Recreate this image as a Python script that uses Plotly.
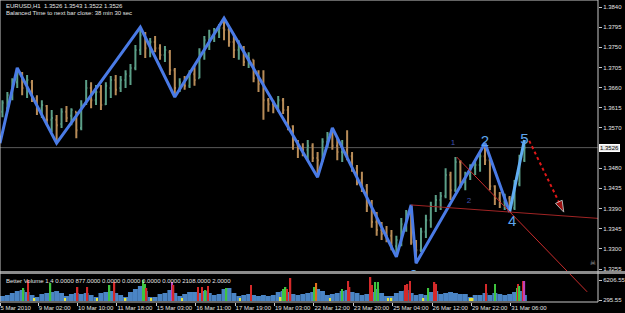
import plotly.graph_objects as go

# ---------------- data ----------------
SYMBOL = "EURUSD,H1"
LAST_O, LAST_H, LAST_L, LAST_C = 1.3526, 1.3543, 1.3522, 1.3526
INFO_TEXT = "Balanced Time to next bar close: 38 min 30 sec"
VOL_TEXT = "Better Volume 1.4 0.0000 877.0000 0.0000 0.0000 0.0000 0.0000 2108.0000 2.0000"

# bar index (hours) of each 4-hour aggregate bar
BAR_B = list(range(2, 428, 4))

O = [1.3606,1.3614,1.3639,1.3672,1.3690,1.3659,1.3672,1.3637,1.3614,1.3619,
     1.3588,1.3588,1.3579,1.3606,1.3597,1.3606,1.3570,1.3628,1.3659,1.3632,
     1.3650,1.3623,1.3659,1.3677,1.3659,1.3677,1.3686,1.3704,1.3744,1.3777,
     1.3748,1.3762,1.3748,1.3733,1.3739,1.3699,1.3659,1.3672,1.3664,1.3690,
     1.3681,1.3739,1.3766,1.3775,1.3784,1.3793,1.3789,1.3762,1.3744,1.3748,
     1.3722,1.3722,1.3681,1.3668,1.3632,1.3623,1.3619,1.3632,1.3610,1.3574,
     1.3532,1.3525,1.3521,1.3530,1.3503,1.3498,1.3539,1.3556,1.3530,1.3516,
     1.3521,1.3507,1.3480,1.3454,1.3440,1.3396,1.3360,1.3342,1.3333,1.3329,
     1.3306,1.3320,1.3355,1.3382,1.3315,1.3297,1.3338,1.3364,1.3396,1.3409,
     1.3418,1.3465,1.3431,1.3494,1.3449,1.3463,1.3480,1.3487,1.3507,1.3498,
     1.3440,1.3413,1.3405,1.3413,1.3391,1.3445,1.3498]
H = [1.3632,1.3650,1.3681,1.3704,1.3695,1.3688,1.3677,1.3643,1.3632,1.3621,
     1.3610,1.3599,1.3614,1.3619,1.3614,1.3606,1.3632,1.3677,1.3672,1.3666,
     1.3666,1.3672,1.3686,1.3688,1.3686,1.3699,1.3713,1.3755,1.3795,1.3784,
     1.3771,1.3775,1.3757,1.3753,1.3744,1.3704,1.3681,1.3686,1.3699,1.3708,
     1.3748,1.3775,1.3789,1.3793,1.3802,1.3815,1.3800,1.3780,1.3766,1.3753,
     1.3739,1.3722,1.3699,1.3699,1.3637,1.3632,1.3641,1.3637,1.3619,1.3576,
     1.3543,1.3536,1.3543,1.3536,1.3516,1.3547,1.3561,1.3570,1.3547,1.3543,
     1.3565,1.3516,1.3487,1.3472,1.3445,1.3409,1.3382,1.3360,1.3351,1.3342,
     1.3329,1.3369,1.3387,1.3398,1.3320,1.3347,1.3376,1.3405,1.3420,1.3427,
     1.3480,1.3472,1.3505,1.3498,1.3472,1.3489,1.3498,1.3516,1.3536,1.3503,
     1.3442,1.3427,1.3423,1.3418,1.3454,1.3510,1.3543]
L = [1.3594,1.3606,1.3632,1.3659,1.3643,1.3637,1.3628,1.3599,1.3592,1.3576,
     1.3561,1.3536,1.3570,1.3583,1.3576,1.3547,1.3565,1.3621,1.3614,1.3621,
     1.3610,1.3621,1.3637,1.3643,1.3650,1.3659,1.3666,1.3699,1.3733,1.3726,
     1.3728,1.3739,1.3722,1.3717,1.3688,1.3639,1.3650,1.3655,1.3659,1.3664,
     1.3681,1.3722,1.3744,1.3762,1.3771,1.3766,1.3751,1.3726,1.3722,1.3708,
     1.3704,1.3672,1.3650,1.3588,1.3606,1.3603,1.3606,1.3601,1.3565,1.3521,
     1.3503,1.3507,1.3498,1.3494,1.3460,1.3494,1.3525,1.3521,1.3498,1.3494,
     1.3498,1.3472,1.3442,1.3427,1.3382,1.3347,1.3329,1.3320,1.3315,1.3297,
     1.3282,1.3306,1.3338,1.3309,1.3268,1.3293,1.3324,1.3347,1.3382,1.3387,
     1.3413,1.3409,1.3427,1.3436,1.3431,1.3454,1.3465,1.3472,1.3487,1.3431,
     1.3398,1.3391,1.3387,1.3382,1.3387,1.3440,1.3494]
C = [1.3626,1.3643,1.3672,1.3690,1.3659,1.3677,1.3637,1.3614,1.3621,1.3588,
     1.3592,1.3576,1.3606,1.3592,1.3610,1.3565,1.3623,1.3659,1.3632,1.3650,
     1.3621,1.3664,1.3677,1.3655,1.3677,1.3690,1.3704,1.3744,1.3777,1.3748,
     1.3762,1.3748,1.3733,1.3744,1.3699,1.3659,1.3672,1.3664,1.3690,1.3677,
     1.3739,1.3766,1.3777,1.3784,1.3793,1.3789,1.3762,1.3744,1.3753,1.3717,
     1.3726,1.3681,1.3668,1.3632,1.3623,1.3619,1.3632,1.3610,1.3574,1.3532,
     1.3525,1.3521,1.3530,1.3503,1.3498,1.3539,1.3556,1.3530,1.3516,1.3521,
     1.3507,1.3480,1.3454,1.3440,1.3396,1.3360,1.3342,1.3333,1.3329,1.3306,
     1.3320,1.3355,1.3382,1.3315,1.3297,1.3338,1.3364,1.3396,1.3409,1.3418,
     1.3465,1.3431,1.3494,1.3449,1.3463,1.3480,1.3487,1.3507,1.3498,1.3440,
     1.3413,1.3405,1.3413,1.3391,1.3445,1.3498,1.3526]

# zigzag vertices
ZZ_B = [0, 14, 46, 114, 142, 182, 258, 270, 322, 334, 338, 394, 414, 426]
ZZ_P = [1.3536, 1.3704, 1.3536, 1.3795, 1.3639, 1.3815, 1.3460, 1.3570,
        1.3282, 1.3398, 1.3268, 1.3536, 1.3382, 1.3543]

# trend lines and forecast arrow
TL1_B, TL1_P = [334, 486], [1.3398, 1.3368]
TL2_B, TL2_P = [371, 477], [1.3505, 1.3204]
ARR_B, ARR_P = [430, 458], [1.3541, 1.3382]

# wave labels
BIG_LBL = ["0", "2", "4", "5"]
BIG_B = [336, 394, 416, 426]
BIG_P = [1.3238, 1.3539, 1.3360, 1.3543]
SMALL_LBL = ["1", "2"]
SMALL_B = [368, 381]
SMALL_P = [1.3536, 1.3407]

# volume (4-hour base) and single-bar colored spikes
VOL = [1500,1800,2400,3000,3300,2700,1800,1200,2100,2400,
       2700,3000,2400,1500,2100,2400,2100,2400,1800,1200,
       2400,2700,3000,2400,1800,1200,2700,3600,4500,3000,
       1200,1200,2100,2400,3300,2400,1500,2100,2700,2700,
       2400,3000,2400,1800,2100,3600,3900,2400,1500,1800,
       2100,1800,1500,1800,1500,1800,2700,3000,2700,2100,
       1800,2100,2400,2700,3600,3000,1800,2100,2400,3000,
       3300,2700,2400,1800,2100,2700,3600,2400,1500,1500,
       2400,3000,3300,2400,1800,2100,1800,2700,3000,2100,
       2400,2700,2400,2100,2100,1200,1800,1800,2400,1800,
       2400,2100,1800,2100,2700,3000,1800]
SPK_B = [19,23,28,41,53,63,71,79,89,93,
         102,116,118,119,123,140,141,148,161,164,
         167,169,184,195,204,228,230,232,233,236,
         255,257,268,278,283,284,301,302,305,307,
         315,318,329,331,333,344,348,353,354,382,
         384,395,402,420,421,422,425,426]
SPK_V = [3900,6300,900,5400,900,4200,4200,900,4800,5700,
         900,6300,5100,3900,900,5700,4800,900,4200,4200,
         3300,4500,3900,900,4800,1200,3600,4200,3600,6900,
         4200,5400,900,3600,6000,4200,7200,4800,5700,5700,
         900,900,4800,5100,6000,900,3900,5700,5100,900,
         900,5100,5100,3900,5100,4500,6000,6000]
SPK_K = ["g","r","y","g","y","r","r","y","g","r",
         "y","g","g","r","y","m","r","y","r","r",
         "g","r","g","y","r","y","g","g","r","r",
         "g","o","y","g","r","r","r","r","g","g",
         "y","y","r","r","r","y","g","r","r","y",
         "y","r","g","g","r","g","r","m"]

PRICE_TICKS = [1.3840, 1.3795, 1.3750, 1.3705, 1.3660, 1.3615, 1.3570,
               1.3480, 1.3435, 1.3390, 1.3345, 1.3300, 1.3255]
VOL_TICKS = [295.55, 6206.55]

DATE_B = [0, 31, 63, 95, 127, 159, 191, 223, 255, 287, 319, 351, 383, 415]
DATE_LBL = ["5 Mar 2010", "9 Mar 02:00", "10 Mar 10:00", "11 Mar 18:00",
            "15 Mar 03:00", "16 Mar 11:00", "17 Mar 19:00", "19 Mar 03:00",
            "22 Mar 12:00", "23 Mar 20:00", "25 Mar 04:00", "26 Mar 12:00",
            "29 Mar 22:00", "31 Mar 06:00"]

# ---------------- layout constants ----------------
W, HGT = 625, 313
ML, MR, MT, MB = 0, 27, 0, 11
PLOT_H = HGT - MT - MB          # 302
X_MAX = 485.8
PX_PER_PRICE = 262 / 0.0585
PRICE_TOP = 1.3840 + 7 / PX_PER_PRICE
PANE_BOTTOM_PX = 271
SEP_TOP_PX, SEP_BOT_PX = 271, 274
VOL_TOP_PX = 275

SPK_COLORS = {"g": "#3fc43f", "r": "#d42a2a", "y": "#e6e63c",
              "m": "#c040b8", "o": "#e0701c"}
TXT = "#e4e4e4"
FONT = "Liberation Sans, Arial, sans-serif"

fig = go.Figure()

fig.add_trace(go.Ohlc(
    x=BAR_B, open=O, high=H, low=L, close=C, xaxis="x", yaxis="y",
    increasing=dict(line=dict(color="#5c9f88", width=2)),
    decreasing=dict(line=dict(color="#b88c58", width=2)),
    tickwidth=0.25, hoverinfo="skip"))

fig.add_trace(go.Scatter(x=ZZ_B[:-1], y=ZZ_P[:-1], mode="lines", xaxis="x", yaxis="y",
                         line=dict(color="#4a7be6", width=3), hoverinfo="skip"))
fig.add_trace(go.Scatter(x=ZZ_B[-2:], y=ZZ_P[-2:], mode="lines", xaxis="x", yaxis="y",
                         line=dict(color="#62aef2", width=3), hoverinfo="skip"))

fig.add_trace(go.Scatter(x=TL1_B, y=TL1_P, mode="lines", xaxis="x", yaxis="y",
                         line=dict(color="#a02424", width=1), hoverinfo="skip"))

fig.add_trace(go.Scatter(x=ARR_B, y=ARR_P, mode="lines+markers", xaxis="x", yaxis="y",
                         line=dict(color="#e01818", width=2, dash="dot"),
                         marker=dict(symbol="arrow", size=[0, 12], angleref="previous",
                                     color="#e01818"),
                         hoverinfo="skip"))

fig.add_trace(go.Scatter(x=BIG_B, y=BIG_P, text=BIG_LBL, mode="text", xaxis="x", yaxis="y",
                         textfont=dict(family=FONT, size=15, color="#5fa6ee"),
                         hoverinfo="skip"))
fig.add_trace(go.Scatter(x=SMALL_B, y=SMALL_P, text=SMALL_LBL, mode="text", xaxis="x", yaxis="y",
                         textfont=dict(family=FONT, size=8, color="#3d52b0"),
                         hoverinfo="skip"))
fig.add_trace(go.Scatter(x=[481.7], y=[1.3268], text=["\u2620"], mode="text", xaxis="x", yaxis="y",
                         textfont=dict(family="DejaVu Sans", size=7, color="#a8a8a8"),
                         hoverinfo="skip"))

# volume pane
fig.add_trace(go.Bar(x=BAR_B, y=VOL, width=4, xaxis="x", yaxis="y2",
                     marker=dict(color="#4a84c4", line=dict(width=0)), hoverinfo="skip"))
fig.add_trace(go.Bar(x=SPK_B, y=SPK_V, width=1.2, xaxis="x", yaxis="y2",
                     marker=dict(color=[SPK_COLORS[k] for k in SPK_K], line=dict(width=0)),
                     hoverinfo="skip"))

# steep trend line (crosses into the volume pane)
fig.add_trace(go.Scatter(x=TL2_B, y=TL2_P, mode="lines", xaxis="x", yaxis="y3",
                         line=dict(color="#c82c2c", width=1), hoverinfo="skip"))

def pframe(px):
    return (PLOT_H - px) / PLOT_H

fig.update_layout(
    width=W, height=HGT, margin=dict(l=ML, r=MR, t=MT, b=MB),
    paper_bgcolor="#000000", plot_bgcolor="rgba(0,0,0,0)",
    showlegend=False, barmode="overlay",
    font=dict(family=FONT, size=6, color=TXT),
    xaxis=dict(domain=[0, 1], range=[0, X_MAX], anchor="y2",
               tickvals=DATE_B, ticktext=DATE_LBL, ticks="outside", ticklen=3,
               tickcolor="#c8c8c8", ticklabelposition="outside right", tickangle=0,
               tickfont=dict(size=6, color=TXT),
               showgrid=False, zeroline=False, showline=False,
               rangeslider=dict(visible=False)),
    yaxis=dict(domain=[pframe(PANE_BOTTOM_PX), 1],
               range=[1.3840 - (PANE_BOTTOM_PX - 7) / PX_PER_PRICE, PRICE_TOP],
               side="right", anchor="x",
               tickvals=PRICE_TICKS, ticktext=[f"{v:.4f}" for v in PRICE_TICKS],
               ticks="outside", ticklen=3, tickcolor="#c8c8c8",
               tickfont=dict(size=6, color=TXT),
               showgrid=False, zeroline=False, showline=False),
    yaxis2=dict(domain=[0, pframe(VOL_TOP_PX)], range=[-300, 7800],
                side="right", anchor="x",
                tickvals=VOL_TICKS, ticktext=[f"{v:.2f}" for v in VOL_TICKS],
                ticks="outside", ticklen=3, tickcolor="#c8c8c8",
                tickfont=dict(size=6, color=TXT),
                showgrid=False, zeroline=False, showline=False),
    yaxis3=dict(domain=[0, 1],
                range=[1.3840 - (PLOT_H - 7) / PX_PER_PRICE, PRICE_TOP],
                anchor="x", visible=False),
    shapes=[
        dict(type="line", xref="paper", yref="y", x0=0, x1=1, y0=LAST_C, y1=LAST_C,
             line=dict(color="#5a5a5a", width=1), layer="below"),
        dict(type="rect", xref="paper", yref="paper", x0=0, x1=W / (W - MR),
             y0=pframe(SEP_BOT_PX), y1=pframe(SEP_TOP_PX),
             fillcolor="#8c8c8c", line=dict(width=0), layer="above"),
        dict(type="rect", xref="paper", yref="paper", x0=0, x1=1, y0=0, y1=1,
             line=dict(color="#c8c8c8", width=1), layer="above"),
    ],
    annotations=[
        dict(xref="paper", yref="paper", x=0.006, y=pframe(6), xanchor="left", yanchor="middle",
             showarrow=False, text=f"{SYMBOL}  {LAST_O:.4f} {LAST_H:.4f} {LAST_L:.4f} {LAST_C:.4f}",
             font=dict(size=6, color=TXT)),
        dict(xref="paper", yref="paper", x=0.006, y=pframe(13), xanchor="left", yanchor="middle",
             showarrow=False, text=INFO_TEXT, font=dict(size=6, color=TXT)),
        dict(xref="paper", yref="paper", x=0.006, y=pframe(281), xanchor="left", yanchor="middle",
             showarrow=False, text=VOL_TEXT, font=dict(size=6, color=TXT)),
        dict(xref="paper", yref="y", x=1, y=LAST_C, xanchor="left", yanchor="middle",
             xshift=1, showarrow=False, text=f"{LAST_C:.4f}",
             font=dict(size=6, color="#000000"), bgcolor="#e8e8e8",
             bordercolor="#ffffff", borderwidth=1, borderpad=0),
    ],
)

fig.write_html("out.html")
